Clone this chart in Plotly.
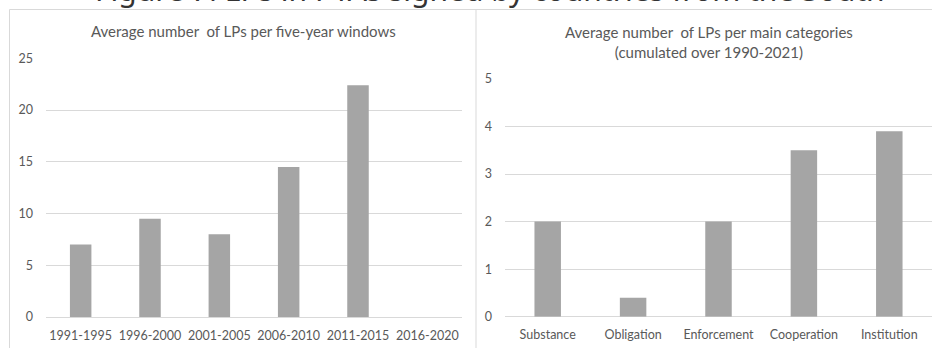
import plotly.graph_objects as go

periods = ["1991-1995", "1996-2000", "2001-2005", "2006-2010", "2011-2015", "2016-2020"]
period_values = [7.0, 9.5, 8.0, 14.5, 22.4, 0.0]

categories = ["Substance", "Obligation", "Enforcement", "Cooperation", "Institution"]
category_values = [2.0, 0.4, 2.0, 3.5, 3.9]

main_title = "Figure 7. LPs in PTAs signed by countries from the South"
left_title = "Average number  of LPs per five-year windows"
right_title = "Average number  of LPs per main categories<br>(cumulated over 1990-2021)"

W, H = 932, 348
BAR = "#a5a5a5"
GRID = "#d9d9d9"
TXT = "#595959"
FONT = "Lato"

def px(x):
    return x / W

def py(y):
    return 1 - y / H

fig = go.Figure()
fig.add_trace(go.Bar(x=periods, y=period_values, marker_color=BAR, marker_line_width=0,
                     xaxis="x", yaxis="y", width=0.31))
fig.add_trace(go.Bar(x=categories, y=category_values, marker_color=BAR, marker_line_width=0,
                     xaxis="x2", yaxis="y2", width=0.31))

tickfont = dict(family=FONT, size=12.5, color=TXT)
xcommon = dict(showline=False, ticks="", showgrid=False, zeroline=False,
               tickfont=tickfont, ticklabelstandoff=9)
ycommon = dict(showline=False, ticks="", showgrid=True, gridcolor=GRID, gridwidth=1,
               zeroline=True, zerolinecolor=GRID, zerolinewidth=1,
               tickfont=tickfont, ticklabelstandoff=12)
fig.update_layout(
    width=W, height=H,
    margin=dict(l=0, r=0, t=0, b=0, pad=0, autoexpand=False),
    paper_bgcolor="white", plot_bgcolor="white",
    showlegend=False,
    xaxis=dict(domain=[px(46), px(462)], anchor="y", **xcommon),
    yaxis=dict(domain=[py(317), py(58.3)], anchor="x", range=[0, 25], dtick=5, **ycommon),
    xaxis2=dict(domain=[px(505), px(932)], anchor="y2", **xcommon),
    yaxis2=dict(domain=[py(316.7), py(79)], anchor="x2", range=[0, 5], dtick=1, **ycommon),
)

fig.add_annotation(text=main_title, xref="paper", yref="paper", x=px(490), y=py(12),
                   xanchor="center", yanchor="bottom", showarrow=False,
                   font=dict(family="Noto Sans", size=30, color="#333333"))
fig.add_annotation(text=left_title, xref="paper", yref="paper", x=px(243), y=py(31),
                   xanchor="center", yanchor="middle", showarrow=False,
                   font=dict(family=FONT, size=15, color=TXT))
fig.add_annotation(text=right_title, xref="paper", yref="paper", x=px(709), y=py(42),
                   xanchor="center", yanchor="middle", showarrow=False,
                   font=dict(family=FONT, size=15, color=TXT))

border = dict(color="#d9d9d9", width=1)
for x0, y0, x1, y1 in [(9.5, 9.5, 932, 9.5), (9.5, 9.5, 9.5, 348), (476, 9.5, 476, 348)]:
    fig.add_shape(type="line", xref="paper", yref="paper", x0=px(x0), y0=py(y0),
                  x1=px(x1), y1=py(y1), line=border)

fig.write_html("out.html", config={"displayModeBar": False},
               post_script="document.body.style.margin='0';document.body.style.overflow='hidden';")
